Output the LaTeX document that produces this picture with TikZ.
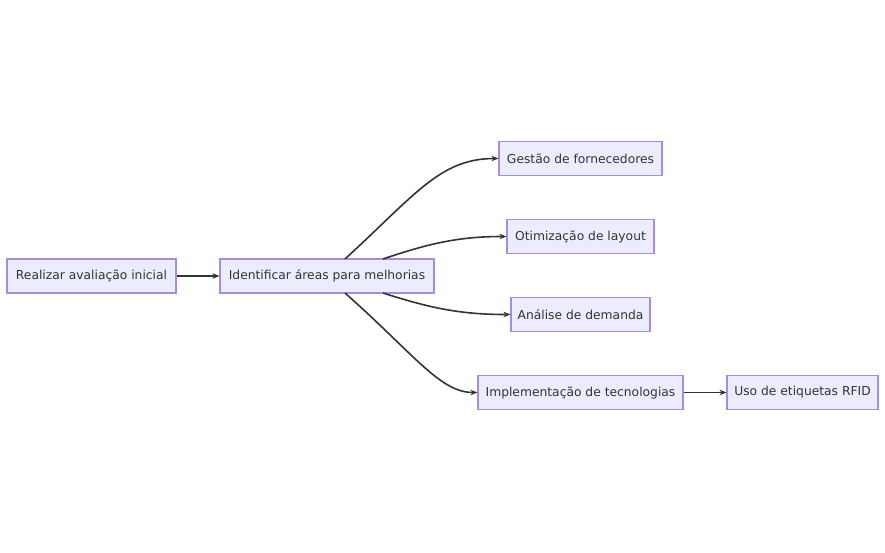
\documentclass[tikz,border=0pt]{standalone}
\usepackage{fontspec}
\setmainfont{DejaVu Sans}
\usetikzlibrary{arrows.meta,calc}
\definecolor{boxfill}{HTML}{ECECFF}
\definecolor{boxline}{HTML}{A78BE3}
\definecolor{edgeline}{HTML}{333333}
\definecolor{txt}{HTML}{333333}
\tikzset{
  flowbox/.style={draw=boxline, fill=boxfill, line width=1.1pt, inner sep=0pt,
    minimum height=34pt, text=txt, font=\fontsize{12.3pt}{14pt}\selectfont},
  flowedge/.style={draw=edgeline, line width=1.6pt,
    -{Stealth[length=7pt,width=5.5pt]}}
}
\begin{document}
\begin{tikzpicture}[x=1pt,y=-1pt]
\useasboundingbox (0,0) rectangle (885,552);
\node[flowbox, minimum width=169pt] (a) at (91.5,276) {Realizar avaliação inicial};
\node[flowbox, minimum width=214pt] (b) at (327,276) {Identificar áreas para melhorias};
\node[flowbox, minimum width=163pt] (c) at (580.5,158.5) {Gestão de fornecedores};
\node[flowbox, minimum width=147pt] (d) at (580.5,236.5) {Otimização de layout};
\node[flowbox, minimum width=139pt] (e) at (580.5,314.5) {Análise de demanda};
\node[flowbox, minimum width=205pt] (f) at (580.5,392.5) {Implementação de tecnologias};
\node[flowbox, minimum width=151pt] (g) at (802.5,392.5) {Uso de etiquetas RFID};
\coordinate (s1) at (345,259);
\coordinate (s2) at (383,259);
\coordinate (s3) at (383,293);
\coordinate (s4) at (345,293);
\draw[flowedge] (a) -- (b);
\draw[flowedge] (s1) .. controls (415,195) and (440,158.5) .. (c.west);
\draw[flowedge] (s2) .. controls (430,243) and (460,236.5) .. (d.west);
\draw[flowedge] (s3) .. controls (430,308) and (460,314.5) .. (e.west);
\draw[flowedge] (s4) .. controls (415,355) and (440,392.5) .. (f.west);
\draw[flowedge] (f) -- (g);
\end{tikzpicture}
\end{document}
